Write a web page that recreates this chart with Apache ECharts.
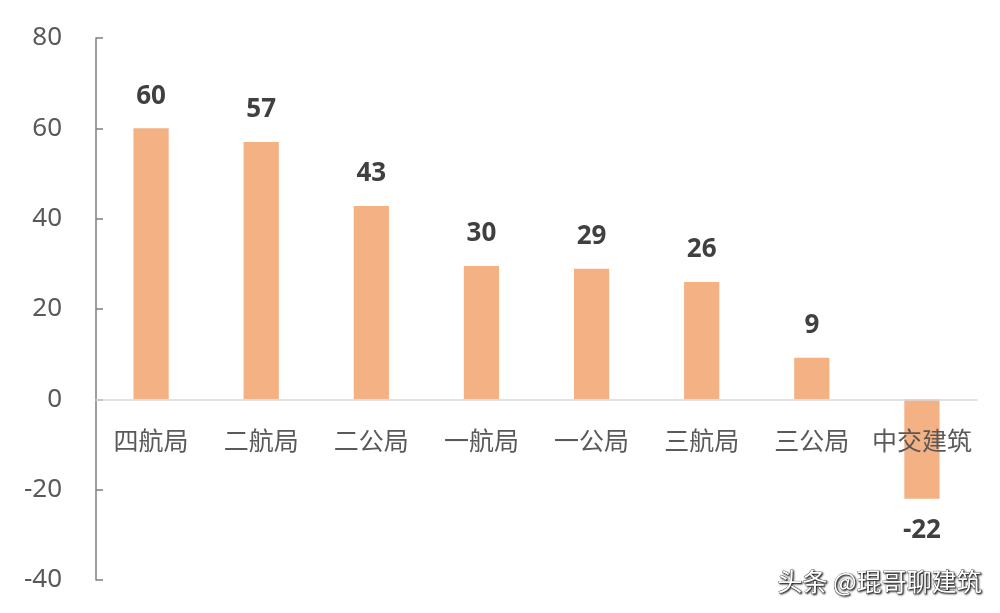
<!DOCTYPE html>
<html><head><meta charset="utf-8">
<script src="https://cdn.jsdelivr.net/npm/echarts@6/dist/echarts.min.js"></script>
<style>html,body{margin:0;padding:0;background:#fff}#c{width:1000px;height:613px}</style>
</head><body><div id="c"></div>
<script>
const categories = ['四航局','二航局','二公局','一航局','一公局','三航局','三公局','中交建筑'];
const values = [60, 57, 42.8, 29.5, 28.9, 26, 9.2, -22];
const yTicks = {min: -40, max: 80, interval: 20};
const watermark = '头条 @琨哥聊建筑';

const W = 1000, H = 613, gTop = 38, gBottom = 33;
const gridH = H - gTop - gBottom;
const zeroOffset = -gridH * (0 - yTicks.min) / (yTicks.max - yTicks.min);

const chart = echarts.init(document.getElementById('c'));
chart.setOption({
  animation: false,
  grid: {left: 96, right: 23, top: gTop, bottom: gBottom, containLabel: false, outerBoundsMode: 'none'},
  xAxis: {
    type: 'category', data: categories, position: 'bottom', offset: zeroOffset, z: 5,
    axisLine: {onZero: false, lineStyle: {color: '#d9d9d9', width: 1.5}},
    axisTick: {show: false},
    axisLabel: {interval: 0, color: '#595959', fontSize: 25, margin: 29, fontFamily: 'Noto Sans CJK SC'}
  },
  yAxis: {
    type: 'value', min: yTicks.min, max: yTicks.max, interval: yTicks.interval,
    axisLine: {show: true, lineStyle: {color: '#7f7f7f', width: 1.5}},
    axisTick: {show: true, inside: true, length: 7, lineStyle: {color: '#7f7f7f', width: 1.5}},
    splitLine: {show: false},
    axisLabel: {color: '#595959', fontSize: 26, margin: 34, fontFamily: 'Noto Sans'}
  },
  series: [{
    type: 'bar', data: values, barWidth: '32%', z: 2,
    itemStyle: {color: '#F4B183'},
    label: {
      show: true, position: 'outside', distance: 19,
      formatter: p => String(Math.round(p.value)),
      color: '#404040', fontSize: 26, fontWeight: 'bold', fontFamily: 'Open Sans'
    }
  }],
  graphic: [{
    type: 'text', right: 18, bottom: 19,
    style: {text: watermark, fontSize: 25, fill: '#fff', fontFamily: 'Noto Sans CJK SC',
      textShadowColor: 'rgba(0,0,0,0.9)', textShadowBlur: 2, textShadowOffsetX: 1, textShadowOffsetY: 1,
      stroke: '#333', lineWidth: 0.6}
  }]
});
</script></body></html>
